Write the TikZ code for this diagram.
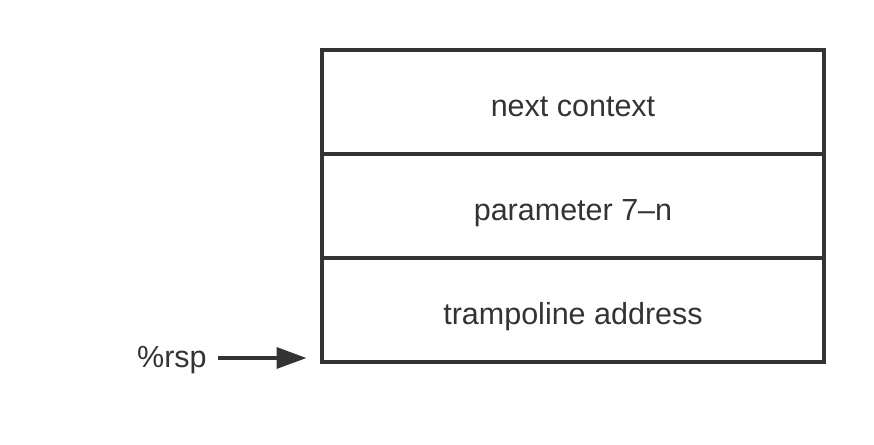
\documentclass[tikz,border=0pt]{standalone}
\usepackage{fontspec}
\setmainfont{Liberation Sans}
\usetikzlibrary{arrows.meta}
\definecolor{ink}{HTML}{333333}
\tikzset{
  rowbox/.style={draw=ink, line width=3.5pt, minimum width=502pt, minimum height=104pt, inner sep=0pt, outer sep=0pt},
  lbl/.style={text=ink, font=\fontsize{30.5}{35}\selectfont, inner sep=0pt, anchor=base},
  ptr/.style={draw=ink, line width=3.5pt, -{Triangle[length=30pt,width=21pt]}}
}
\begin{document}
\begin{tikzpicture}[x=1pt,y=-1pt]
\useasboundingbox (0,0) rectangle (874,444);
\node[rowbox] (r1) at (573,102) {};
\node[rowbox] (r2) at (573,206) {};
\node[rowbox] (r3) at (573,310) {};
\node[lbl] (t1) at ([yshift=-14pt]r1.center) {next context};
\node[lbl] (t2) at ([yshift=-14pt]r2.center) {parameter 7–n};
\node[lbl] (t3) at ([yshift=-14pt]r3.center) {trampoline address};
\node[lbl, anchor=base west] (rsp) at (137,367) {\%rsp};
\coordinate (astart) at (218,358);
\coordinate (aend) at (306.5,358);
\draw[ptr] (astart) -- (aend);
\end{tikzpicture}
\end{document}
